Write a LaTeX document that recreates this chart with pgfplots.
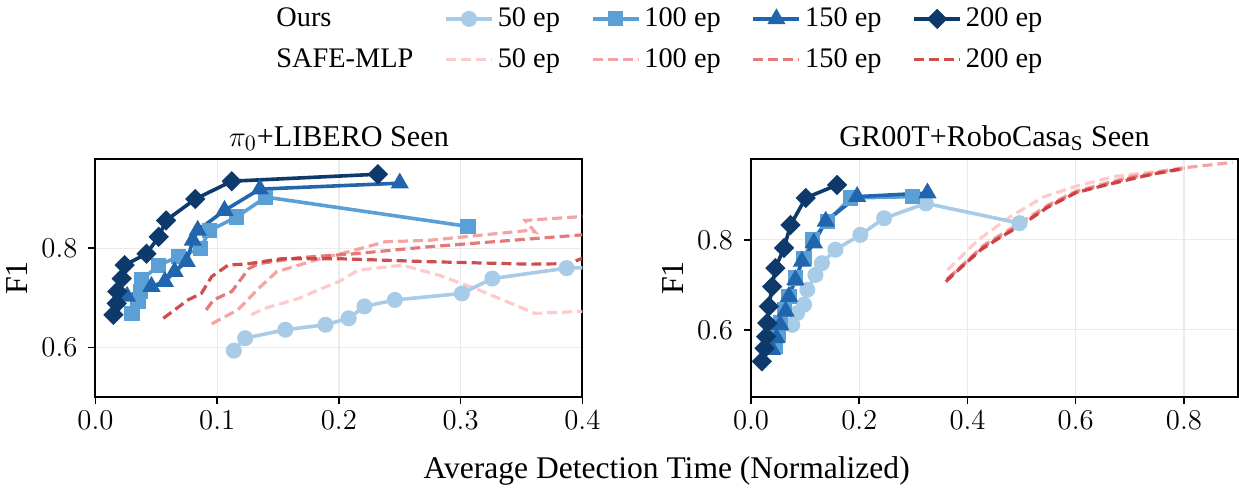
\documentclass[border=0pt]{standalone}
\usepackage{fontspec}
\setmainfont{Liberation Serif}
\usepackage{pgfplots}
\pgfplotsset{compat=1.18}
\usetikzlibrary{calc}

\definecolor{OursA}{HTML}{A8CBE8}
\definecolor{OursB}{HTML}{5AA0D6}
\definecolor{OursC}{HTML}{2166AC}
\definecolor{OursD}{HTML}{0D3A6A}
\definecolor{SafeA}{HTML}{FFC4C4}
\definecolor{SafeB}{HTML}{F49A9A}
\definecolor{SafeC}{HTML}{E36A6A}
\definecolor{SafeD}{HTML}{C93A3C}

\newcommand{\labfont}{\fontsize{16pt}{19pt}\selectfont}
\newcommand{\legfont}{\fontsize{14.2pt}{17pt}\selectfont}

\pgfplotsset{
  panel/.style={
    scale only axis, width=244pt, height=119.5pt,
    axis line style={line width=1pt, black},
    tick align=outside, tick pos=left,
    major tick length=3.5pt, tick style={line width=0.8pt, black},
    grid=major, grid style={black!8, line width=0.6pt},
    ytick={0.6,0.8},
    tick label style={font=\fontsize{14.6pt}{17pt}\selectfont},
    xticklabel style={/pgf/number format/fixed,/pgf/number format/fixed zerofill,/pgf/number format/precision=1},
    yticklabel style={xshift=-2pt,/pgf/number format/fixed,/pgf/number format/fixed zerofill,/pgf/number format/precision=1},
    ylabel={F1}, ylabel style={font=\labfont},
    title style={font=\fontsize{15.1pt}{18pt}\selectfont, yshift=-5.5pt},
  },
  o50/.style={OursA, line width=1.8pt, mark=*, mark size=3.1pt, mark options={solid}},
  o100/.style={OursB, line width=1.8pt, mark=square*, mark size=2.9pt, mark options={solid}},
  o150/.style={OursC, line width=1.8pt, mark=triangle*, mark size=3.5pt, mark options={solid}},
  o200/.style={OursD, line width=1.8pt, mark=square*, mark size=2.7pt, mark options={solid,rotate=45}},
  s50/.style={SafeA, line width=1.6pt, dash pattern=on 5pt off 2.5pt, no markers, opacity=0.9},
  s100/.style={SafeB, line width=1.6pt, dash pattern=on 5pt off 2.5pt, no markers, opacity=0.9},
  s150/.style={SafeC, line width=1.6pt, dash pattern=on 5pt off 2.5pt, no markers, opacity=0.9},
  s200/.style={SafeD, line width=1.6pt, dash pattern=on 5pt off 2.5pt, no markers, opacity=0.9},
}

\begin{document}
\begin{tikzpicture}
\begin{axis}[panel, name=left,
  xmin=0, xmax=0.4, ymin=0.5, ymax=0.98,
  xtick={0,0.1,0.2,0.3,0.4},
  title={$\pi_0$+LIBERO Seen},
  legend columns=5,
  legend cell align=left,
  legend style={at={(1.158,1.0)}, anchor=south, yshift=40pt, draw=none, fill=none,
    font=\legfont,
    /tikz/every even column/.append style={column sep=13.5pt},
    row sep=5.5pt},
  legend image code/.code={\draw[mark repeat=2,mark phase=2,#1] plot coordinates {(0pt,0pt) (11.5pt,0pt) (23pt,0pt)};},
]
\addlegendimage{empty legend}\addlegendentry{Ours}
\addlegendimage{o50}\addlegendentry{50 ep}
\addlegendimage{o100}\addlegendentry{100 ep}
\addlegendimage{o150}\addlegendentry{150 ep}
\addlegendimage{o200}\addlegendentry{200 ep}
\addlegendimage{empty legend}\addlegendentry{SAFE-MLP}
\addlegendimage{s50}\addlegendentry{50 ep}
\addlegendimage{s100}\addlegendentry{100 ep}
\addlegendimage{s150}\addlegendentry{150 ep}
\addlegendimage{s200}\addlegendentry{200 ep}

% SAFE-MLP
\addplot[s50, forget plot] coordinates {(0.128,0.666) (0.139,0.679) (0.167,0.699) (0.183,0.716) (0.200,0.733) (0.216,0.756) (0.252,0.766) (0.282,0.746) (0.315,0.716) (0.361,0.669) (0.400,0.673) (0.45,0.673)};
\addplot[s100, forget plot] coordinates {(0.0955,0.648) (0.117,0.676) (0.134,0.719) (0.149,0.753) (0.167,0.766) (0.186,0.780) (0.208,0.793) (0.238,0.813) (0.274,0.816) (0.356,0.836) (0.361,0.833) (0.353,0.856) (0.400,0.864) (0.45,0.866)};
\addplot[s150, forget plot] coordinates {(0.091,0.676) (0.097,0.696) (0.112,0.713) (0.126,0.759) (0.134,0.769) (0.167,0.781) (0.213,0.789) (0.274,0.803) (0.400,0.827) (0.45,0.83)};
\addplot[s200, forget plot] coordinates {(0.0558,0.659) (0.076,0.696) (0.087,0.709) (0.0955,0.743) (0.109,0.766) (0.126,0.769) (0.153,0.779) (0.200,0.779) (0.274,0.773) (0.356,0.768) (0.389,0.769) (0.400,0.780)};
% Ours
\addplot[o50, forget plot] coordinates {(0.1137,0.594) (0.123,0.619) (0.156,0.636) (0.189,0.646) (0.208,0.659) (0.221,0.683) (0.246,0.696) (0.301,0.709) (0.326,0.739) (0.387,0.760) (0.47,0.765)};
\addplot[o100, forget plot] coordinates {(0.030,0.669) (0.035,0.693) (0.037,0.713) (0.038,0.736) (0.052,0.766) (0.068,0.783) (0.086,0.799) (0.094,0.836) (0.116,0.863) (0.140,0.903) (0.306,0.844)};
\addplot[o150, forget plot] coordinates {(0.026,0.703) (0.046,0.723) (0.057,0.733) (0.065,0.753) (0.075,0.773) (0.080,0.816) (0.084,0.836) (0.106,0.876) (0.135,0.919) (0.250,0.931)};
\addplot[o200, forget plot] coordinates {(0.0148,0.666) (0.0175,0.689) (0.018,0.713) (0.0216,0.739) (0.024,0.766) (0.042,0.789) (0.052,0.823) (0.058,0.856) (0.082,0.899) (0.112,0.935) (0.232,0.949)};
\end{axis}

\begin{axis}[panel, name=right, at={(328.5pt,0pt)},
  xmin=0, xmax=0.9, ymin=0.45, ymax=0.98,
  xtick={0,0.2,0.4,0.6,0.8},
  title={GR00T+RoboCasa\textsubscript{S} Seen},
]
% SAFE-MLP
\addplot[s50] coordinates {(0.363,0.733) (0.42,0.800) (0.48,0.852) (0.542,0.896) (0.598,0.918) (0.672,0.941) (0.75,0.952) (0.80,0.960)};
\addplot[s100] coordinates {(0.365,0.715) (0.43,0.788) (0.50,0.840) (0.55,0.878) (0.60,0.908) (0.70,0.940) (0.80,0.960) (0.89,0.972)};
\addplot[s150] coordinates {(0.362,0.712) (0.43,0.785) (0.50,0.835) (0.55,0.875) (0.60,0.905) (0.70,0.937) (0.80,0.958)};
\addplot[s200] coordinates {(0.360,0.707) (0.385,0.735) (0.425,0.778) (0.46,0.805) (0.496,0.830) (0.548,0.872) (0.601,0.905) (0.65,0.920) (0.703,0.935) (0.75,0.948) (0.801,0.959)};
% Ours
\addplot[o50] coordinates {(0.076,0.611) (0.085,0.637) (0.098,0.656) (0.104,0.689) (0.119,0.722) (0.131,0.748) (0.156,0.778) (0.202,0.811) (0.246,0.848) (0.323,0.881) (0.496,0.837)};
\addplot[o100] coordinates {(0.045,0.563) (0.050,0.590) (0.054,0.615) (0.062,0.645) (0.070,0.674) (0.082,0.715) (0.098,0.759) (0.113,0.800) (0.141,0.841) (0.184,0.893) (0.298,0.896)};
\addplot[o150] coordinates {(0.039,0.556) (0.047,0.582) (0.054,0.611) (0.064,0.641) (0.070,0.674) (0.082,0.711) (0.094,0.752) (0.116,0.793) (0.138,0.841) (0.196,0.896) (0.326,0.904)};
\addplot[o200] coordinates {(0.020,0.530) (0.025,0.559) (0.028,0.585) (0.030,0.615) (0.033,0.652) (0.039,0.696) (0.045,0.737) (0.061,0.782) (0.073,0.833) (0.101,0.893) (0.159,0.922)};
\end{axis}

\node[anchor=base, font=\fontsize{15.8pt}{19pt}\selectfont] at ($(left.south west)!0.5!(right.south east)+(0,-40.5pt)$) {Average Detection Time (Normalized)};
\end{tikzpicture}
\end{document}
